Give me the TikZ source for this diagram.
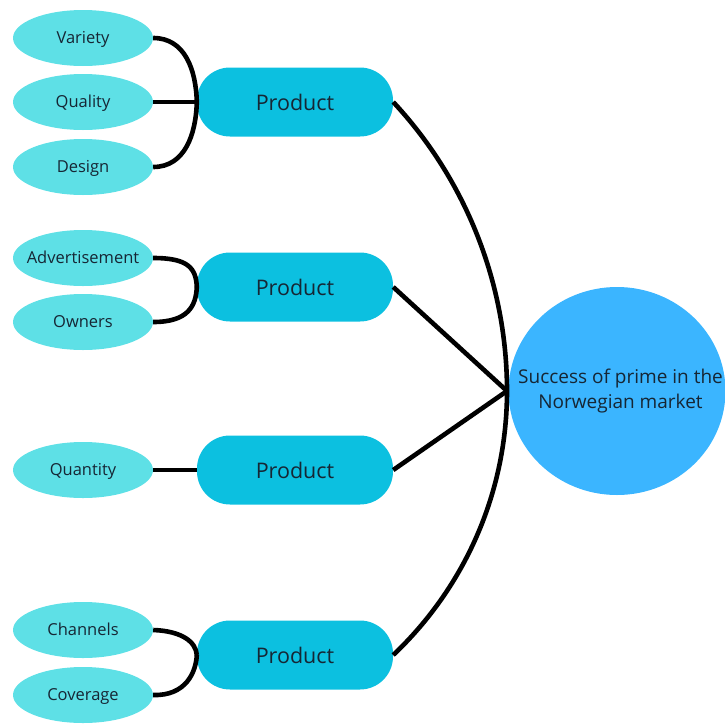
\documentclass[tikz,border=0pt]{standalone}
\usepackage{fontspec}
\setmainfont{Open Sans}
\usetikzlibrary{shapes.geometric}
\definecolor{leafc}{RGB}{94,224,230}
\definecolor{prodc}{RGB}{12,192,224}
\definecolor{goalc}{RGB}{59,181,255}
\definecolor{txtc}{RGB}{22,38,52}
\newcommand{\zb}[1]{\makebox[0pt]{\raisebox{-5pt}[0pt][0pt]{#1}}}
\begin{document}
\begin{tikzpicture}[x=1pt,y=-1pt,
  leaf/.style={ellipse, fill=leafc, minimum width=140pt, minimum height=56pt, inner sep=0pt,
    font=\fontsize{16.5}{20}\selectfont, text=txtc},
  prod/.style={rectangle, rounded corners=33pt, fill=prodc, minimum width=196pt, minimum height=69pt,
    inner sep=0pt, font=\fontsize{21.5}{24}\selectfont, text=txtc},
  goal/.style={ellipse, fill=goalc, minimum width=217pt, minimum height=208pt, inner sep=0pt,
    font=\fontsize{19}{25}\selectfont, text=txtc},
  link/.style={line width=4.6pt, black}]
\useasboundingbox (0,0) rectangle (725,723);

% leaves
\node[leaf] (v)  at (83,38)  {\zb{Variety}};
\node[leaf] (q)  at (83,102) {\zb{Quality}};
\node[leaf] (d)  at (83,167) {\zb{Design}};
\node[leaf] (a)  at (83,258) {\zb{Advertisement}};
\node[leaf] (o)  at (83,322) {\zb{Owners}};
\node[leaf] (qt) at (83,470) {\zb{Quantity}};
\node[leaf] (ch) at (83,630) {\zb{Channels}};
\node[leaf] (cv) at (83,695) {\zb{Coverage}};

% products
\node[prod] (p1) at (295,102) {Product};
\node[prod] (p2) at (295,287) {Product};
\node[prod] (p3) at (295,470) {Product};
\node[prod] (p4) at (295,655) {Product};

% goal
\node[goal] (g) at (617,391) {\makebox[0pt]{\hspace{7pt}\begin{tabular}{@{}c@{}}Success of prime in the\\[0pt]Norwegian market\end{tabular}}};
\coordinate (hub) at (507,391);

% left connectors
\draw[link] (v.east) .. controls (185,38) and (196,70) .. (p1.west);
\draw[link] (q.east) -- (p1.west);
\draw[link] (d.east) .. controls (185,167) and (196,134) .. (p1.west);

\draw[link] (a.east) .. controls (188,258) and (196,268) .. (p2.west);
\draw[link] (o.east) .. controls (188,322) and (196,306) .. (p2.west);

\draw[link] (qt.east) -- (p3.west);

\draw[link] (ch.east) .. controls (182,631) and (196,642) .. (p4.west);
\draw[link] (cv.east) .. controls (186,696) and (196,672) .. (p4.west);

% right connectors
\draw[link] (p1.east) .. controls (466,180) and (507,284) .. (hub)
  .. controls (507,491) and (466,586) .. (p4.east);
\draw[link] (p2.east) -- (hub);
\draw[link] (p3.east) -- (hub);
\end{tikzpicture}
\end{document}
